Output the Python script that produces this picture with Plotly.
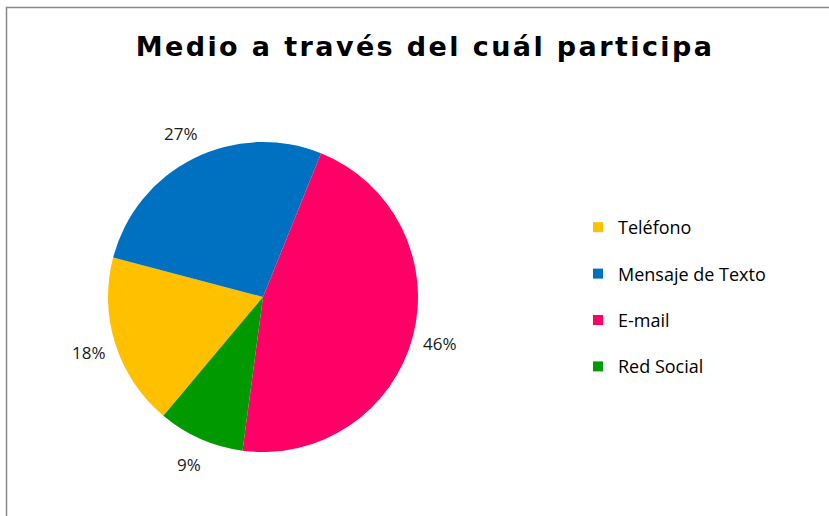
import math
import plotly.graph_objects as go

# Participation channel shares
labels = ["Teléfono", "Mensaje de Texto", "E-mail", "Red Social"]
shares = [18, 27, 46, 9]
colors = ["#FFC000", "#0070C0", "#FF0066", "#009900"]

W, H = 829, 516
FONT = "Open Sans"
ROTATION = 220

# pie placement (pixels)
CX, CY, R = 263, 297, 155
LABEL_R = 183

fig = go.Figure()

fig.add_trace(go.Pie(
    labels=labels,
    values=shares,
    sort=False,
    direction="clockwise",
    rotation=ROTATION,
    marker=dict(colors=colors, line=dict(width=0)),
    textinfo="none",
    domain=dict(x=[(CX - R) / W, (CX + R) / W], y=[1 - (CY + R) / H, 1 - (CY - R) / H]),
    showlegend=False,
))

# percentage labels placed outside each slice at its mid-angle
total = sum(shares)
annotations = []
start = ROTATION
for v in shares:
    sweep = 360 * v / total
    mid = math.radians(start + sweep / 2)
    px = CX + LABEL_R * math.sin(mid)
    py = CY - LABEL_R * math.cos(mid)
    annotations.append(dict(
        x=px / W, y=1 - py / H, xref="paper", yref="paper",
        text=f"{round(100 * v / total)}%", showarrow=False,
        xanchor="center", yanchor="middle",
        font=dict(family=FONT, size=17, color="#1a1a1a"),
    ))
    start += sweep

# legend entries, one group per channel so they can be spaced apart
for name, col in zip(labels, colors):
    fig.add_trace(go.Scatter(
        x=[None], y=[None], mode="markers", name=name,
        legendgroup=name,
        marker=dict(symbol="square", size=10, color=col),
    ))

fig.update_layout(
    width=W, height=H,
    margin=dict(l=0, r=0, t=0, b=0),
    paper_bgcolor="white", plot_bgcolor="white",
    xaxis=dict(visible=False), yaxis=dict(visible=False),
    title=dict(
        text="<b>Medio a través del cuál participa</b>",
        font=dict(family="DejaVu Sans", size=27, color="#000000"),
        x=425 / W, xanchor="center", y=1 - 47 / H, yanchor="middle",
    ),
    legend=dict(
        x=578 / W, xanchor="left", y=1 - 209 / H, yanchor="top",
        font=dict(family=FONT, size=18, color="#000000"),
        tracegroupgap=20, itemwidth=30,
        bgcolor="rgba(0,0,0,0)",
    ),
    annotations=annotations,
    shapes=[dict(
        type="rect", xref="paper", yref="paper",
        x0=6.5 / W, x1=1.05, y0=-0.05, y1=1 - 7.5 / H,
        line=dict(color="#888888", width=1.5), fillcolor="rgba(0,0,0,0)",
        layer="below",
    )],
)

# widen the tracking of the title text
spacing_js = """
var gd = document.getElementById('{plot_id}');
gd.querySelectorAll('.gtitle').forEach(function(e){ e.style.letterSpacing = '2.4px'; });
"""

fig.write_html("out.html", post_script=spacing_js)
